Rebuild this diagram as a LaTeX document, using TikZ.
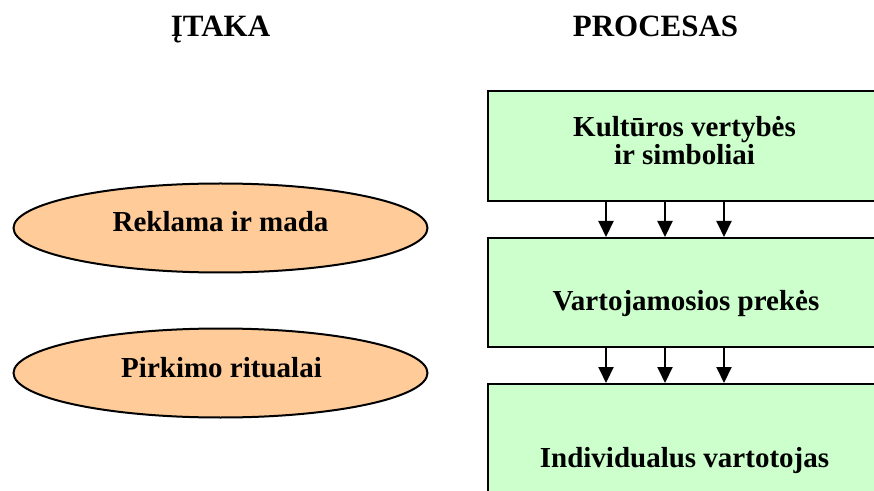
\documentclass[tikz,border=0pt]{standalone}
\usepackage{fontspec}
\setmainfont{Liberation Serif}
\usetikzlibrary{shapes.geometric,arrows.meta}
\definecolor{boxgreen}{HTML}{CCFFCC}
\definecolor{ovalorange}{HTML}{FFCC99}
\begin{document}
\begin{tikzpicture}[x=1pt,y=1pt,
  txt/.style={font=\fontsize{29}{28}\selectfont\bfseries, inner sep=0pt, anchor=base},
  head/.style={font=\fontsize{31}{30}\selectfont\bfseries, inner sep=0pt, anchor=base},
  stage/.style={draw=black, line width=2pt, fill=boxgreen, rectangle, inner sep=0pt,
                minimum width=396pt, anchor=north west},
  factor/.style={draw=black, line width=2pt, fill=ovalorange, ellipse, inner sep=0pt,
                 minimum width=414pt, minimum height=89pt},
  flow/.style={line width=2pt, -{Triangle[width=15pt,length=16pt]}}]
\useasboundingbox (0,0) rectangle (874,490);
\clip (0,0) rectangle (874,490);
\fill[white] (0,0) rectangle (874,490);

% column headings
\node[head] (hInf) at (220.5,453) {ĮTAKA};
\node[head] (hProc) at (655.5,453) {PROCESAS};

% process stages
\node[stage, minimum height=110pt] (s1) at (487,400) {};
\node[stage, minimum height=109pt] (s2) at (487,253) {};
\node[stage, minimum height=140pt] (s3) at (487,107) {};

\node[txt] (s1a) at (684.5,353) {Kultūros vertybės};
\node[txt] (s1b) at (684.5,325) {ir simboliai};
\node[txt] (s2t) at (686,179) {Vartojamosios prekės};
\node[txt] (s3t) at (684.5,23) {Individualus vartotojas};

% flows between stages
\foreach \xx in {606,665,724}{
  \draw[flow] (s1.south -| \xx,0) -- (s2.north -| \xx,0);
  \draw[flow] (s2.south -| \xx,0) -- (s3.north -| \xx,0);
}

% influencing factors
\node[factor] (f1) at (220.5,262) {};
\node[factor] (f2) at (220.5,117) {};
\node[txt] (f1t) at (220.5,258) {Reklama ir mada};
\node[txt] (f2t) at (221.5,113) {Pirkimo ritualai};
\end{tikzpicture}
\end{document}
